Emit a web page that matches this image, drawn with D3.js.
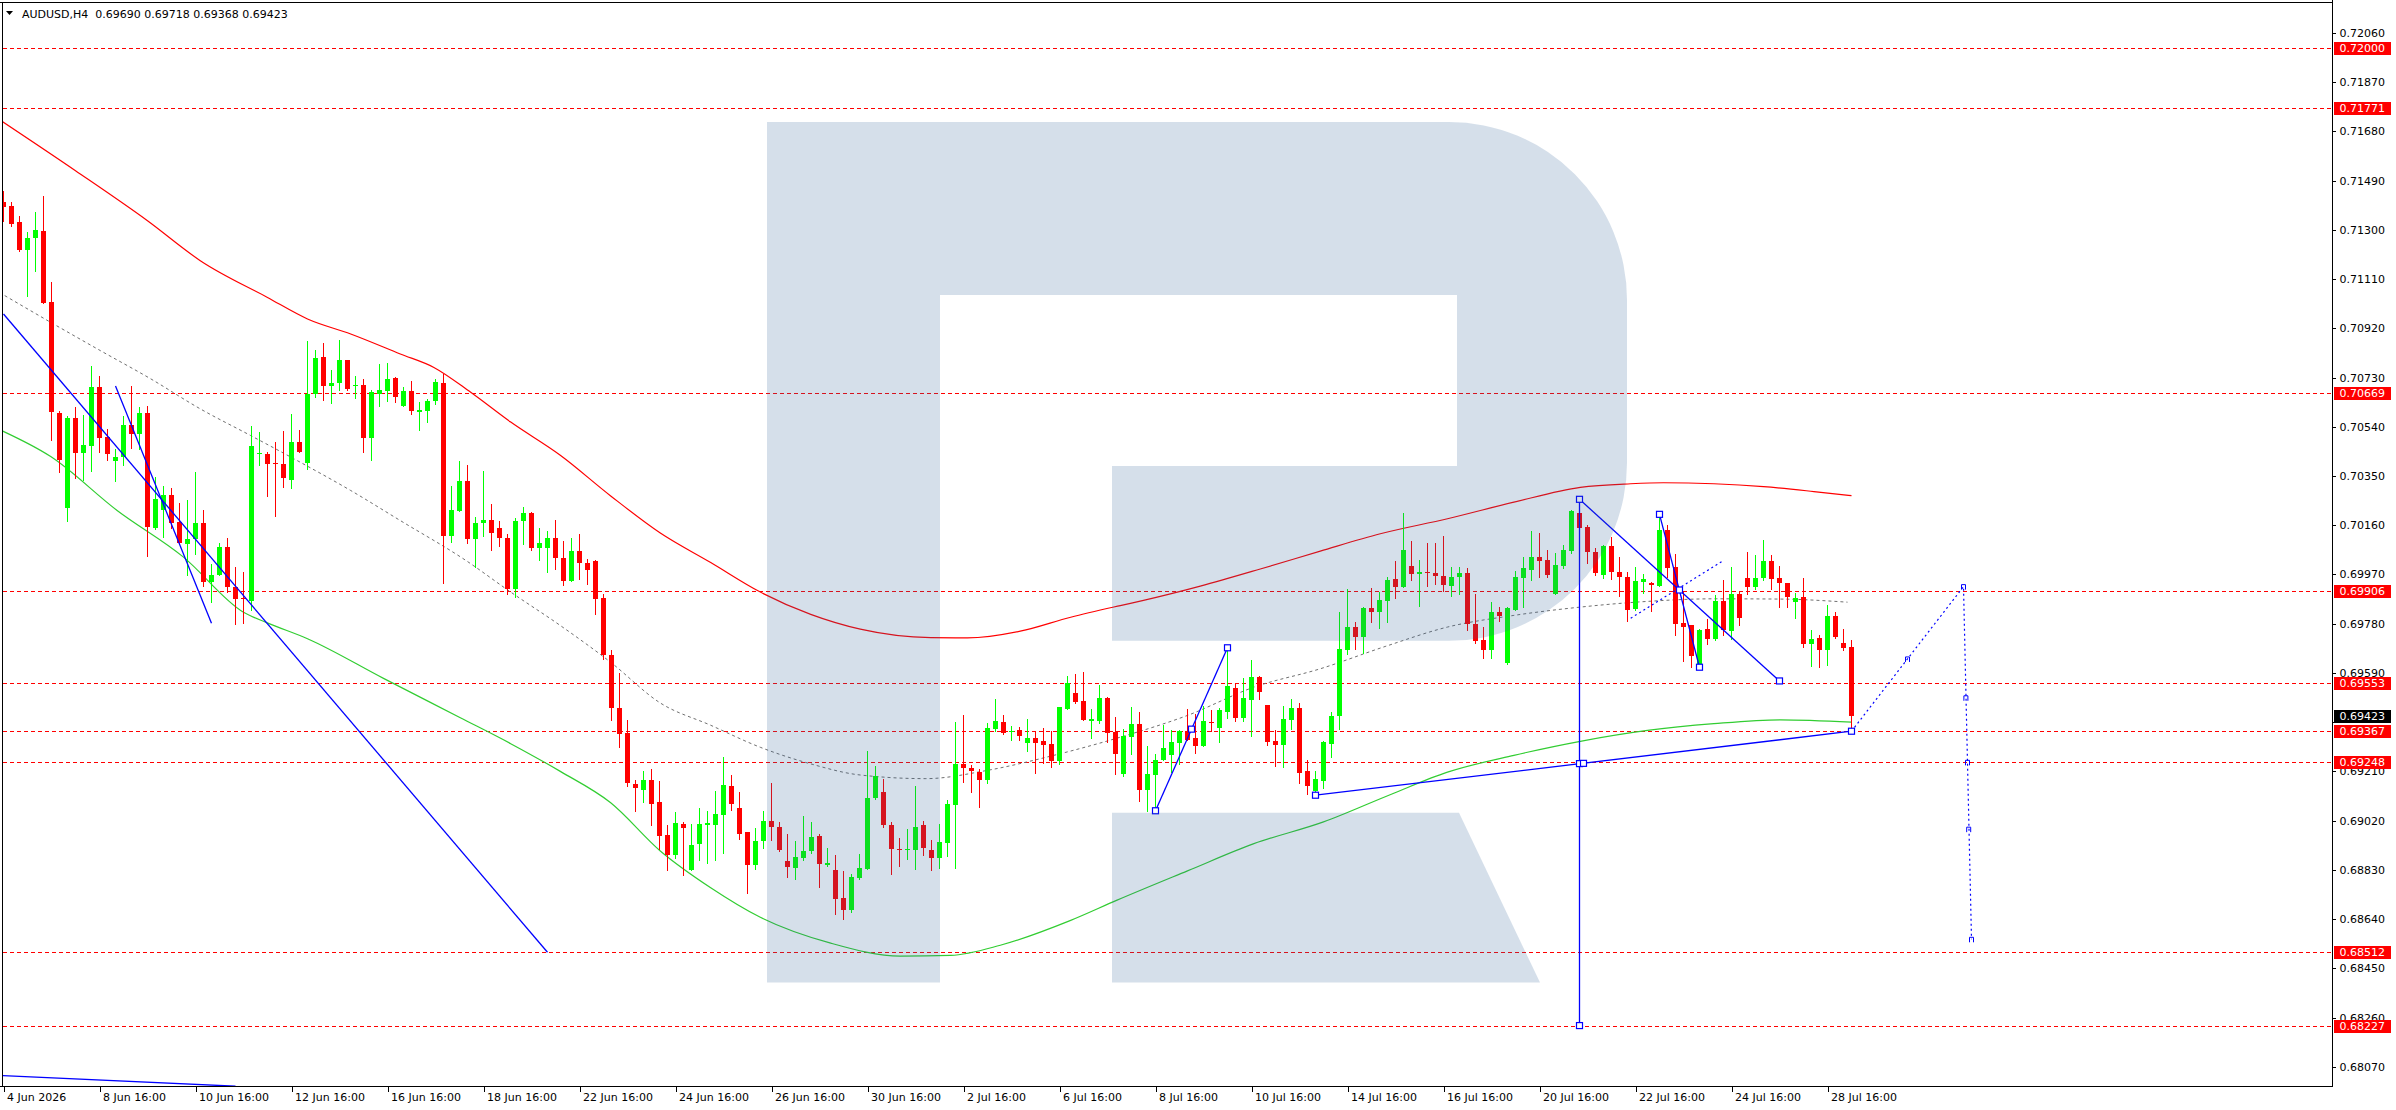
<!DOCTYPE html>
<html>
<head>
<meta charset="utf-8">
<script src="https://cdn.jsdelivr.net/npm/d3@7"></script>
<style>
  body { margin: 0; background: #fff; }
  svg text { font-family: "DejaVu Sans", Verdana, sans-serif; font-size: 11px; }
</style>
</head>
<body>
<div id="vis"></div>
<script>
const WIDTH = 2396;
const HEIGHT = 1110;
const PLOT = {left: 2.5, top: 2.5, right: 2332.5, bottom: 1086.5};

const title = "AUDUSD,H4  0.69690 0.69718 0.69368 0.69423";

// H4 candles, one per bar index (bar 0 = 4 Jun 16:00)
const open = [
  .71406,.71393,.71329,.71223,.71267,.71297,.71023,.70593,.70226,.70575,
  .70437,.70467,.70695,.70502,.70407,.70422,.70548,.70511,.70595,.70149,
  .70218,.70278,.70172,.70088,.70106,.70170,.69942,.69966,.70076,.69921,
  .69878,.69869,.70434,.70436,.70402,.70398,.70335,.70483,.70402,.70667,
  .70811,.70699,.70708,.70799,.70698,.70703,.70496,.70665,.70679,.70729,
  .70621,.70679,.70597,.70600,.70638,.70710,.70120,.70214,.70332,.70106,
  .70167,.70182,.70150,.70109,.69912,.70177,.70206,.70072,.70072,.70112,
  .70035,.69943,.70062,.70016,.70020,.69878,.69661,.69455,.69357,.69163,
  .69137,.69177,.69090,.68963,.68889,.69007,.68828,.68929,.69003,.69003,
  .69042,.69153,.69067,.68975,.68849,.68942,.69020,.68997,.68863,.68839,
  .68876,.68903,.68959,.68850,.68828,.68721,.68675,.68799,.68832,.69107,
  .69129,.69002,.68909,.68906,.68906,.69002,.68905,.68876,.68934,.69080,
  .69237,.69224,.69209,.69177,.69372,.69399,.69362,.69368,.69319,.69337,
  .69326,.69314,.69249,.69450,.69511,.69480,.69404,.69404,.69495,.69362,
  .69200,.69342,.69391,.69138,.69197,.69252,.69272,.69319,.69364,.69339,
  .69308,.69399,.69377,.69441,.69533,.69416,.69485,.69573,.69468,.69326,
  .69312,.69408,.69453,.69210,.69134,.69173,.69315,.69423,.69680,.69769,
  .69728,.69839,.69824,.69869,.69954,.69921,.70003,.69972,.69981,.69976,
  .69965,.69927,.69959,.69976,.69780,.69718,.69680,.69827,.69628,.69831,
  .69956,.69989,.70039,.70024,.69894,.70004,.70062,.70208,.70155,.70055,
  .69967,.70078,.69981,.69962,.69836,.69940,.69938,.69927,.70143,.69998,
  .69782,.69773,.69612,.69758,.69719,.69869,.69751,.69896,.69958,.69920,
  .69956,.70020,.69958,.69938,.69863,.69882,.69701,.69725,.69680,.69808,
  .69704,.69690
];
const high = [
  .71451,.71406,.71354,.71293,.71370,.71432,.71100,.70602,.70581,.70615,
  .70586,.70776,.70737,.70532,.70454,.70581,.70699,.70615,.70620,.70348,
  .70313,.70304,.70245,.70258,.70366,.70219,.70011,.70093,.70111,.69997,
  .69981,.70544,.70521,.70441,.70483,.70525,.70591,.70529,.70872,.70836,
  .70865,.70760,.70876,.70799,.70737,.70726,.70683,.70782,.70787,.70733,
  .70692,.70715,.70637,.70646,.70726,.70744,.70311,.70406,.70394,.70193,
  .70369,.70243,.70175,.70126,.70186,.70232,.70212,.70150,.70136,.70182,
  .70100,.70112,.70127,.70028,.70025,.69893,.69677,.69591,.69410,.69177,
  .69210,.69221,.69174,.69002,.69053,.69013,.69006,.69070,.69059,.69133,
  .69264,.69196,.69130,.68975,.68992,.69056,.69164,.69015,.68967,.68943,
  .69037,.69013,.68967,.68913,.68889,.68825,.68813,.68893,.69289,.69229,
  .69181,.69013,.68953,.68986,.69152,.69020,.68944,.69006,.69101,.69399,
  .69426,.69233,.69220,.69398,.69488,.69426,.69384,.69381,.69411,.69362,
  .69376,.69364,.69457,.69580,.69587,.69593,.69452,.69542,.69498,.69418,
  .69375,.69457,.69441,.69308,.69276,.69389,.69368,.69368,.69449,.69432,
  .69461,.69448,.69454,.69687,.69551,.69570,.69638,.69580,.69468,.69368,
  .69461,.69488,.69472,.69253,.69210,.69326,.69441,.69824,.69915,.69786,
  .69844,.69917,.69901,.69959,.70020,.70206,.70098,.70024,.70093,.70093,
  .70118,.69998,.69998,.69995,.69895,.69767,.69862,.69846,.69844,.69985,
  .70039,.70139,.70129,.70066,.70052,.70085,.70220,.70258,.70159,.70071,
  .70082,.70114,.70039,.69979,.69998,.69970,.69940,.70200,.70161,.70049,
  .69908,.69776,.69758,.69799,.69889,.69949,.69998,.69902,.70056,.70047,
  .70103,.70047,.70004,.69938,.69900,.69957,.69754,.69738,.69854,.69827,
  .69760,.69718
];
const low = [
  .71335,.71316,.71217,.71046,.71142,.71016,.70487,.70365,.70176,.70343,
  .70333,.70371,.70444,.70410,.70329,.70394,.70457,.70454,.70041,.70146,
  .70114,.70149,.70088,.69968,.70049,.69924,.69863,.69966,.69901,.69777,
  .69784,.69831,.70394,.70274,.70197,.70309,.70304,.70442,.70376,.70654,
  .70644,.70631,.70682,.70680,.70652,.70444,.70410,.70621,.70641,.70637,
  .70621,.70588,.70529,.70557,.70626,.69936,.70096,.70214,.70091,.69999,
  .70119,.70063,.70079,.69893,.69882,.70086,.70063,.70025,.69978,.69992,
  .69931,.69943,.69952,.69932,.69816,.69642,.69410,.69303,.69153,.69057,
  .69092,.69003,.68910,.68828,.68875,.68810,.68828,.68868,.68856,.68868,
  .68896,.69060,.68949,.68739,.68835,.68915,.68946,.68903,.68802,.68796,
  .68868,.68896,.68763,.68846,.68661,.68639,.68668,.68796,.68832,.69103,
  .68996,.68813,.68846,.68872,.68832,.68889,.68828,.68837,.68882,.68837,
  .69169,.69130,.69073,.69165,.69366,.69355,.69330,.69330,.69289,.69204,
  .69242,.69227,.69240,.69450,.69475,.69407,.69339,.69396,.69324,.69201,
  .69192,.69276,.69096,.69056,.69058,.69252,.69207,.69240,.69332,.69281,
  .69308,.69364,.69323,.69417,.69404,.69404,.69346,.69488,.69313,.69231,
  .69227,.69372,.69165,.69124,.69116,.69147,.69265,.69372,.69664,.69681,
  .69668,.69786,.69763,.69786,.69878,.69921,.69947,.69850,.69927,.69934,
  .69908,.69886,.69893,.69754,.69705,.69647,.69647,.69792,.69625,.69831,
  .69844,.69947,.69962,.69962,.69893,.69994,.70052,.70150,.70015,.69968,
  .69957,.69953,.69886,.69790,.69833,.69898,.69828,.69927,.69959,.69737,
  .69635,.69612,.69610,.69702,.69718,.69737,.69722,.69773,.69893,.69913,
  .69947,.69914,.69844,.69846,.69801,.69690,.69616,.69612,.69619,.69725,
  .69680,.69368
];
const close = [
  .71390,.71322,.71223,.71270,.71299,.71019,.70596,.70413,.70575,.70437,
  .70471,.70695,.70498,.70433,.70425,.70548,.70511,.70595,.70155,.70262,
  .70278,.70168,.70091,.70107,.70170,.69940,.69968,.70076,.69921,.69876,
  .69874,.70467,.70440,.70398,.70395,.70341,.70483,.70444,.70667,.70807,
  .70699,.70710,.70799,.70687,.70703,.70496,.70673,.70683,.70726,.70654,
  .70679,.70600,.70604,.70641,.70714,.70120,.70217,.70332,.70106,.70170,
  .70182,.70129,.70110,.69912,.70177,.70206,.70073,.70093,.70112,.70033,
  .69943,.70062,.70013,.69986,.69875,.69658,.69453,.69354,.69164,.69146,
  .69177,.69084,.68960,.68889,.69009,.68992,.68927,.69006,.69009,.69044,
  .69156,.69084,.68970,.68849,.68943,.69020,.68995,.68906,.68842,.68879,
  .68903,.68955,.68852,.68856,.68718,.68675,.68801,.68836,.69109,.69193,
  .69003,.68910,.68906,.68909,.68996,.68915,.68876,.68936,.69083,.69237,
  .69223,.69211,.69177,.69376,.69403,.69358,.69367,.69346,.69337,.69319,
  .69312,.69250,.69457,.69553,.69477,.69408,.69411,.69495,.69358,.69276,
  .69346,.69391,.69137,.69199,.69255,.69299,.69322,.69364,.69333,.69308,
  .69403,.69395,.69445,.69538,.69416,.69492,.69573,.69516,.69323,.69312,
  .69411,.69453,.69204,.69153,.69179,.69322,.69425,.69683,.69769,.69728,
  .69839,.69824,.69870,.69950,.69921,.70066,.69970,.69981,.69975,.69963,
  .69930,.69962,.69976,.69777,.69715,.69680,.69827,.69809,.69840,.69959,
  .69994,.70039,.70020,.69968,.70008,.70066,.70213,.70150,.70057,.69974,
  .70080,.69979,.69959,.69831,.69944,.69954,.69931,.70143,.69994,.69777,
  .69767,.69657,.69756,.69719,.69869,.69756,.69896,.69801,.69921,.69956,
  .70020,.69952,.69936,.69882,.69880,.69701,.69722,.69680,.69810,.69727,
  .69686,.69423
];

// time axis: a label every 12 bars
const timeTickBars = d3.range(0, 229, 12);
const timeTickLabels = ["4 Jun 2026","8 Jun 16:00","10 Jun 16:00","12 Jun 16:00","16 Jun 16:00",
  "18 Jun 16:00","22 Jun 16:00","24 Jun 16:00","26 Jun 16:00","30 Jun 16:00","2 Jul 16:00",
  "6 Jul 16:00","8 Jul 16:00","10 Jul 16:00","14 Jul 16:00","16 Jul 16:00","20 Jul 16:00",
  "22 Jul 16:00","24 Jul 16:00","28 Jul 16:00"];

const priceTicks = [0.72060,0.71870,0.71680,0.71490,0.71300,0.71110,0.70920,0.70730,0.70540,
  0.70350,0.70160,0.69970,0.69780,0.69590,0.69400,0.69210,0.69020,0.68830,0.68640,0.68450,
  0.68260,0.68070];
// tick whose label sits fully under the last-price tag
const hiddenTick = 0.69400;

const levels = [0.72000,0.71771,0.70669,0.69906,0.69553,0.69367,0.69248,0.68512,0.68227];
const lastPrice = 0.69423;

// moving averages, [bar, price]
const maSlow = [[-0.5,.71725],[9,.71528],[18,.71335],[24.6,.71181],[33,.71039],[38,.70956],
  [43.4,.70898],[49.6,.70821],[53.8,.70769],[58.4,.70673],[63.4,.70558],[69.6,.70430],
  [75.9,.70273],[82.1,.70130],[88.4,.70016],[94.6,.69902],[100.9,.69816],[107.1,.69759],
  [115.9,.69726],[120.5,.69725],[127.1,.69751],[133.4,.69805],[139.6,.69850],[142.5,.69870],
  [149.6,.69925],[157.1,.69991],[164.6,.70060],[172.1,.70127],[180.5,.70185],[188.8,.70249],
  [197.1,.70306],[203.4,.70320],[207.5,.70324],[213.8,.70320],[220,.70309],[226.3,.70290],
  [231,.70274]];
const maFast = [[-0.5,.70529],[5.9,.70425],[14.2,.70217],[22.5,.70037],[30,.69824],
  [32.9,.69784],[38,.69722],[47.5,.69569],[57.1,.69417],[63.4,.69317],[69.6,.69210],
  [75.9,.69089],[82.1,.68903],[88.4,.68761],[94.6,.68647],[103.4,.68547],[112.1,.68497],
  [118.4,.68500],[124.6,.68539],[133.4,.68635],[139.2,.68713],[148,.68826],[156.3,.68931],
  [165,.69015],[173.4,.69121],[180.5,.69207],[188.8,.69272],[197.1,.69326],[205.5,.69368],
  [213.8,.69394],[222.1,.69409],[231,.69400]];
const maMid = [[-0.5,.71058],[5.9,.70943],[12.1,.70834],[18.4,.70725],[24.6,.70609],
  [30.9,.70506],[37.1,.70403],[43.4,.70294],[49.6,.70178],[57.75,.70025],[63.4,.69902],
  [69.6,.69773],[75.9,.69631],[82.1,.69474],[88.4,.69388],[94.6,.69303],[100.9,.69239],
  [107.1,.69196],[115.3,.69182],[123,.69214],[131.3,.69272],[139.6,.69342],[148,.69426],
  [156.3,.69535],[164.6,.69606],[172.8,.69693],[180.5,.69767],[188.8,.69812],[197.1,.69844],
  [205.5,.69866],[213.8,.69876],[222.1,.69875],[230.5,.69863]];

// drawn objects
const trendLines = [
  [[0,.70975],[68,.68512]],
  [[14,.70697],[26,.69782]],
  [[-1,.68037],[29,.67995]],
  [[144,.69058],[153,.69687]],
  [[164,.69118],[231,.69365]],
  [[197,.70260],[197,.68229]],
  [[197,.70260],[222,.69559]],
  [[207,.70202],[212,.69612]]
];
const dottedLines = [
  [[203.4,.69801],[215,.70024]],
  [[231,.69365],[245,.69923],[246,.68562]]
];
const anchorPoints = [[144,.69058],[148.5,.69373],[153,.69687],[164,.69118],[231,.69365],
  [197,.70260],[197,.69240],[197.5,.69241],[197,.68229],[209.5,.69910],[222,.69559],
  [207,.70202],[212,.69612]];
const projectionMarks = [[238,.69644],[245,.69923],[245.3,.69494],[245.5,.69245],
  [245.65,.68987],[246,.68562]];

const X = d3.scaleLinear().domain([0, 231]).range([3.5, 1851.5]);
const Y = d3.scaleLinear().domain([0.679958, 0.721754]).range([1086, 3]);

const svg = d3.select("#vis").append("svg")
  .attr("width", WIDTH).attr("height", HEIGHT)
  .style("display", "block").style("background", "#fff");

svg.append("defs").append("clipPath").attr("id", "plotclip")
  .append("rect").attr("x", 3).attr("y", 3)
  .attr("width", PLOT.right - 3.5).attr("height", PLOT.bottom - 3.5);

const plot = svg.append("g").attr("clip-path", "url(#plotclip)");

// price levels
plot.selectAll("line.level").data(levels).join("line")
  .attr("class", "level")
  .attr("x1", 3).attr("x2", PLOT.right)
  .attr("y1", d => Math.round(Y(d)) + 0.5).attr("y2", d => Math.round(Y(d)) + 0.5)
  .attr("stroke", "#ff0000").attr("stroke-width", 1)
  .attr("stroke-dasharray", "4,3").attr("shape-rendering", "crispEdges");

// moving averages
const maLine = d3.line().x(d => X(d[0])).y(d => Y(d[1])).curve(d3.curveMonotoneX);
plot.append("path").attr("d", maLine(maMid)).attr("fill", "none")
  .attr("stroke", "#707070").attr("stroke-width", 1).attr("stroke-dasharray", "3,3");
plot.append("path").attr("d", maLine(maSlow)).attr("fill", "none")
  .attr("stroke", "#ff0000").attr("stroke-width", 1.2);
plot.append("path").attr("d", maLine(maFast)).attr("fill", "none")
  .attr("stroke", "#32cd32").attr("stroke-width", 1.2);

// candles
const bars = d3.range(open.length);
const candle = plot.selectAll("g.candle").data(bars).join("g")
  .attr("class", "candle").attr("shape-rendering", "crispEdges");
const colorOf = i => close[i] >= open[i] ? "#00ff00" : "#ff0000";
candle.append("line")
  .attr("x1", i => X(i)).attr("x2", i => X(i))
  .attr("y1", i => Math.round(Y(high[i]))).attr("y2", i => Math.round(Y(low[i])) + 1)
  .attr("stroke", colorOf).attr("stroke-width", 1);
candle.append("rect")
  .attr("x", i => X(i) - 2.5).attr("width", 5)
  .attr("y", i => Math.round(Y(Math.max(open[i], close[i]))))
  .attr("height", i => Math.max(1, Math.round(Y(Math.min(open[i], close[i]))) - Math.round(Y(Math.max(open[i], close[i])))))
  .attr("fill", colorOf);

// trend lines and anchors
const objLine = d3.line().x(d => X(d[0])).y(d => Y(d[1]));
plot.selectAll("path.trend").data(trendLines).join("path")
  .attr("class", "trend").attr("d", objLine).attr("fill", "none")
  .attr("stroke", "#0000ff").attr("stroke-width", 1.3);
plot.selectAll("path.dotted").data(dottedLines).join("path")
  .attr("class", "dotted").attr("d", objLine).attr("fill", "none")
  .attr("stroke", "#0000ff").attr("stroke-width", 1.2).attr("stroke-dasharray", "2,3");
plot.selectAll("rect.anchor").data(anchorPoints).join("rect")
  .attr("class", "anchor")
  .attr("x", d => X(d[0]) - 3).attr("y", d => Y(d[1]) - 3)
  .attr("width", 6).attr("height", 6)
  .attr("fill", "#fff").attr("stroke", "#0000ff").attr("stroke-width", 1.2);
plot.selectAll("path.pmark").data(projectionMarks).join("path")
  .attr("class", "pmark")
  .attr("d", d => `M${X(d[0]) - 2},${Y(d[1]) + 3}V${Y(d[1]) - 2}H${X(d[0]) + 2}V${Y(d[1]) + 3}`)
  .attr("fill", "none").attr("stroke", "#0000ff").attr("stroke-width", 1);

// watermark logo, drawn over the chart as a translucent layer
const logo = svg.append("g").attr("fill", "rgba(49,98,152,0.204)");
logo.append("path").attr("d",
  "M767,122 H1449 A178,178 0 0 1 1627,300 V462.8 A178,178 0 0 1 1449,640.8 H1112 V466 H1457 V295 H940 V982.5 H767 Z");
logo.append("path").attr("d", "M1112,812.7 H1459 L1540,982.5 H1112 Z");

// frame
const frame = svg.append("g").attr("stroke", "#000").attr("stroke-width", 1)
  .attr("shape-rendering", "crispEdges");
frame.append("line").attr("x1", 0).attr("x2", PLOT.right).attr("y1", PLOT.top).attr("y2", PLOT.top);
frame.append("line").attr("x1", PLOT.left).attr("x2", PLOT.left).attr("y1", PLOT.top).attr("y2", PLOT.bottom);
frame.append("line").attr("x1", PLOT.right).attr("x2", PLOT.right).attr("y1", 0).attr("y2", PLOT.bottom);
frame.append("line").attr("x1", 0).attr("x2", PLOT.right).attr("y1", PLOT.bottom).attr("y2", PLOT.bottom);

// price axis
const yAxis = svg.append("g").attr("transform", `translate(${PLOT.right},0)`)
  .call(d3.axisRight(Y).tickValues(priceTicks)
    .tickFormat(d => d === hiddenTick ? "" : d.toFixed(5))
    .tickSize(3).tickPadding(4));
yAxis.select(".domain").remove();
yAxis.selectAll("text").attr("fill", "#000").style("font-size", "11px");
yAxis.selectAll("line").attr("stroke", "#000").attr("shape-rendering", "crispEdges");

// level labels
const tags = svg.selectAll("g.tag").data(levels.map(v => ({v, bg: "#ff0000"}))
    .concat([{v: lastPrice, bg: "#000"}])).join("g")
  .attr("class", "tag").attr("transform", d => `translate(${PLOT.right + 1},${Math.round(Y(d.v))})`);
tags.append("rect").attr("x", 0).attr("y", -6.5).attr("width", 57).attr("height", 13)
  .attr("fill", d => d.bg).attr("shape-rendering", "crispEdges");
tags.append("text").attr("x", 6).attr("dy", "0.36em").attr("fill", "#fff")
  .text(d => d.v.toFixed(5));

// time axis
const xAxis = svg.append("g").attr("transform", `translate(0,${PLOT.bottom})`)
  .call(d3.axisBottom(X).tickValues(timeTickBars).tickFormat((d, k) => timeTickLabels[k])
    .tickSize(5).tickPadding(2));
xAxis.select(".domain").remove();
xAxis.selectAll("line").attr("stroke", "#000").attr("shape-rendering", "crispEdges");
xAxis.selectAll("text").attr("fill", "#000").attr("text-anchor", "start").attr("x", 3)
  .style("font-size", "11px");

// header
svg.append("path").attr("d", "M6,11 L13,11 L9.5,15 Z").attr("fill", "#000");
svg.append("text").attr("x", 22).attr("y", 17.7).attr("fill", "#000")
  .attr("xml:space", "preserve").style("white-space", "pre").text(title);
</script>
</body>
</html>
